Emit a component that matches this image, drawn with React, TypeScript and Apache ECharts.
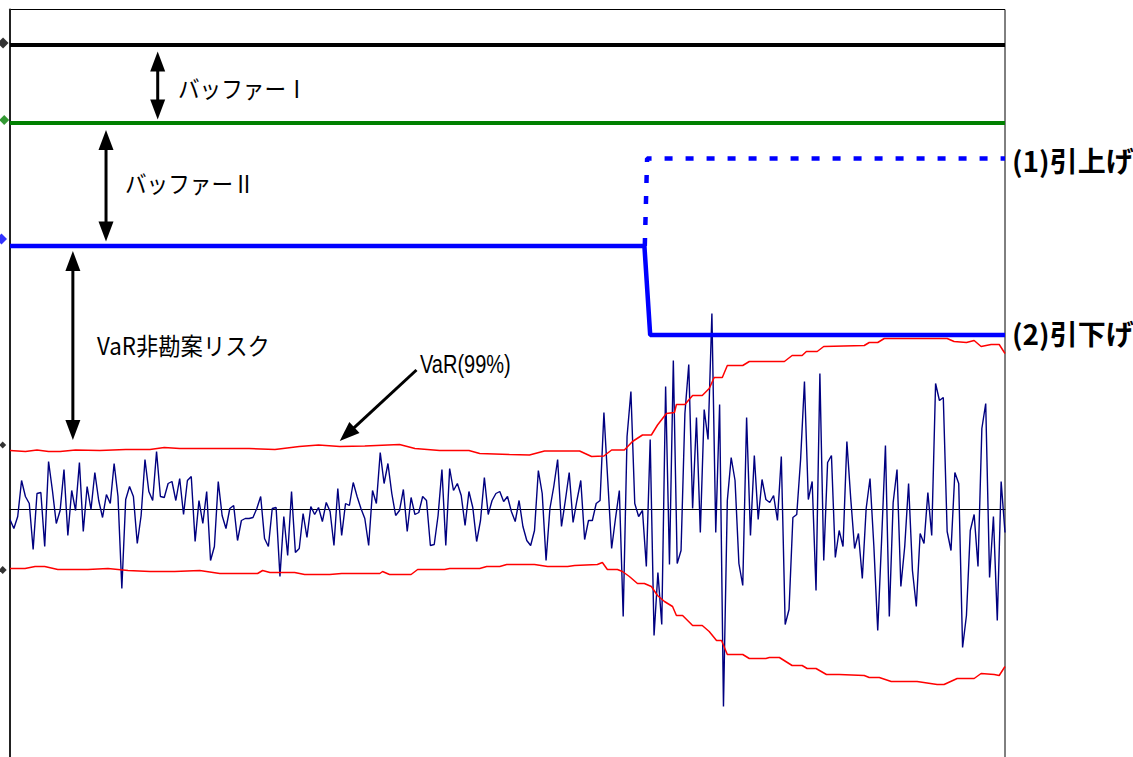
import React, { useEffect, useRef } from 'react';
import * as echarts from 'echarts';

// Daily P&L (blue noisy line), one value per business day
const dailyPnL: number[] = [
  -1.0, -1.9, -0.7, 2.9, 1.3, 0.6, -4.0, 1.6, 1.7, -3.7, 4.8, 1.9, -1.4, -0.1, 4.0, -2.6, 1.9, -0.1, 4.7, -2.2,
  2.3, 0, 3.7, 0.9, -0.8, 1.5, 0.6, 4.6, 1.3, -7.9, 1.0, 2.3, 1.3, -3.4, -0.6, 5.0, 1.8, 0.9, 5.8, 1.3,
  1.2, 2.6, 2.8, 0.9,
  3.1, -0.5, 2.9, 3.3, -3.2, 0.9, -1.4, 1.8, -5.1, -3.7, 2.8, -0.6, -1.9, 0.1, 0.4, -3.1, -1.1, -0.9, -0.9, -0.8,
  0.1, 1.3, -2.9, -3.7, 0.1, 0.2, -6.7, -0.7, -4.6, 1.8, -4.3, -3.9, -0.4, -2.8, 0.3, -0.5, 0.2, -1.2, 0.7, -0.2,
  -3.6, 2.1, -2.6, 0.6,
  0.4, 2.7, 1.3, 0.1, -0.9, -3.6, 1.9, 0.6, 5.7, 2.6, 4.6, 1.6, -0.6, -0.1, 2.0, -2.2, 1.2, -0.5, -0.3, 1.3,
  0.9, -3.6, -3.5, -0.6, 4.0, -3.6, 4.1, 1.9, 2.6, 1.4, -1.6, 1.8, 0.2, -3.2, -1.1, 3.2, -0.5, 0.9, 1.6, 1.8,
  0.8, 1.3,
  -0.2, -1.2, 0.9, -1.7, -3.1, -3.6, -2.1, 3.9, 1.6, -5.1, 0.1, 2.3, 5.0, -1.7, 0.9, 3.7, -1.3, 0.9, 2.9, -3.0,
  -1.1, -1.1, 0.6, 0.9, 9.7, 2.9, -3.9, -0.9, 1.9, -10.7, 7.3, 11.8, 0.6, -0.7, -0.1, -5.7, 7.0, -12.6, -6.3, -11.5,
  12.3, -5.5,
  14.9, -5.4, -4.1, 9.6, 14.5, 0.1, 9.2, -2.3, 10.0, 7.0, 19.6, -2.3, 10.5, -19.7, 0.9, 5.2, 2.9, -5.4, -7.6, 9.2,
  -2.6, 5.4, -1.0, 3.0, 1.0, 0.7, 1.4, -1.1, 5.3, -11.5, -10.0, -0.8, -0.5, 5.0, 12.8, 1.0, 2.8, -8.1, 13.6, -5.1,
  4.7, 5.4, -4.8, -2.1,
  -3.7, 6.8, 1.1, -3.9, -2.4, -6.9, 0.1, 3.1, -3.7, -12.1, -3.1, 6.4, -10.7, 0.7, 4.0, -7.7, -3.7, 2.6, -6.1, -9.7,
  -2.4, -3.4, 1.7, -2.6, 12.6, 10.9, 11.2, -2.2, -4.1, 3.7, 2.6, -13.8, -10.6, -2.1, -0.5, -5.7, 8.1, 10.6, -6.8, -0.7,
  -11.1, 2.8, -2.3,
];

// VaR(99%) upper band: [day, value]
const varUpper: [number, number][] = [
  [0, 5.9], [4, 5.8], [7, 5.95], [10, 5.8], [13, 5.8], [17, 5.95], [23.3, 5.9], [30, 6.0], [36.3, 6.0], [40, 6.2], [44, 6.1],
  [62, 6.1], [68.7, 6.0], [75, 6.3], [80, 6.45], [85.5, 6.3], [92, 6.35],
  [101, 6.5], [105, 6.1], [111.4, 5.9], [119, 5.9], [121.8, 5.6], [129.5, 5.5], [134.7, 5.45], [138.6, 5.85],
  [147.7, 5.85], [150.8, 5.3], [154, 5.35], [156, 5.95], [159.3, 5.95], [161.4, 6.8], [164, 7.45], [166.3, 7.45],
  [167.9, 8.45], [170.2, 9.6], [172.3, 9.7], [172.8, 10.5], [175, 10.5], [177, 11.4], [179.5, 11.4], [181.3, 12.1],
  [182.6, 13.2], [184.7, 13.2], [186, 14.4], [190, 14.4], [191.7, 14.8], [200.8, 14.8], [202.8, 15.4], [205.4, 15.4],
  [206.5, 15.8], [209.3, 15.8], [211, 16.3], [221.5, 16.4], [222.8, 16.7], [225, 16.7], [226.7, 17.1], [243, 17.1],
  [244.8, 16.8], [248, 16.7], [250, 16.9], [251.8, 16.3], [254.4, 16.5], [256.5, 16.5], [258, 15.6],
];

// VaR(99%) lower band: [day, value]
const varLower: [number, number][] = [
  [0, -5.9], [3.9, -5.9], [6.5, -5.7], [9, -5.7], [12.4, -6.0], [20.2, -6.0], [25.4, -5.9], [30.6, -6.1],
  [36.3, -6.2], [42.7, -6.2], [49.2, -6.1], [54.4, -6.4], [64.2, -6.4], [65.5, -6.1], [67.4, -6.3], [73.8, -6.3],
  [76.4, -6.5], [82.9, -6.5], [86, -6.4], [95.9, -6.4], [96.6, -6.2], [98.4, -6.5], [104, -6.5], [105.7, -6.0],
  [112.7, -6.0], [114, -5.9], [121.8, -5.9], [123.6, -5.7], [127, -5.7], [128.8, -5.5], [136, -5.5], [139.4, -5.7],
  [144.6, -5.7], [146.4, -5.6], [152.3, -5.5], [153.6, -5.3], [154.9, -6.0], [157.5, -6.0], [158.8, -6.2],
  [160.6, -6.7], [162.7, -7.4], [164.5, -7.4], [166.3, -7.7], [167.9, -8.6], [169.7, -9.2], [171.8, -9.7],
  [172.8, -10.6], [174.4, -10.6], [177, -11.6], [179.5, -11.6], [181.3, -12.2], [183.2, -13.1], [184.5, -13.1],
  [186, -14.5], [190, -14.5], [191.7, -14.9], [196, -14.9], [196.9, -14.8], [199.5, -14.8], [202.8, -15.6],
  [205.4, -15.6], [206.7, -15.9], [209, -15.9], [211.7, -16.5], [215, -16.5], [221.5, -16.6], [222.8, -16.8],
  [225.4, -16.8], [228.5, -17.2], [235.2, -17.2], [240.4, -17.5], [242.2, -17.5], [245.6, -16.9], [250, -16.9],
  [251.8, -16.4], [255.2, -16.5], [256.5, -16.6], [258, -15.7],
];

// Levels
const capitalLevel: [number, number][] = [[0, 46.45], [258, 46.45]];
const bufferLevel: [number, number][] = [[0, 38.65], [258, 38.65]];
const limitLowered: [number, number][] = [[0, 26.35], [164.5, 26.35], [166, 17.45], [258, 17.45]];
const limitRaised: [number, number][] = [[164.6, 26.35], [165.2, 35.1], [258, 35.1]];

// Axis-edge markers
const edgeMarkers: [number, number][] = [[-1.8, 46.65], [-1.5, 38.95], [-2.2, 27.05], [-1.9, 6.45], [-1.9, -6.05]];
const edgeMarkerColors = ['#000000', '#008000', '#0000ff', '#000000', '#000000'];
const edgeMarkerSizes = [11, 10, 11, 7, 8];

// Annotation arrows: [x1, y1, x2, y2, doubleHeaded]
const arrows: number[][] = [
  [38.3, 45.8, 38.3, 39.0, 1],
  [24.9, 37.95, 24.9, 26.8, 1],
  [16.3, 25.85, 16.3, 6.95, 1],
  [105.4, 13.95, 85.5, 6.85, 0],
];

const labels = ['バッファーⅠ', 'バッファーⅡ', 'VaR非勘案リスク', 'VaR(99%)', '(1)引上げ', '(2)引下げ'];

const JP = '"Noto Sans CJK JP", "Noto Sans", sans-serif';

export default function App() {
  const ref = useRef<HTMLDivElement>(null);
  useEffect(() => {
    if (!ref.current) return;
    const chart = echarts.init(ref.current, undefined, { renderer: 'svg' });
    const option: any = {
      animation: false,
      backgroundColor: '#ffffff',
      grid: { left: 10, right: 128, top: 9.5, bottom: 30.5, show: true, borderColor: '#000', borderWidth: 1 },
      xAxis: {
        type: 'value', min: 0, max: 258,
        axisLine: { show: true, onZero: true, lineStyle: { color: '#000', width: 1 } },
        axisTick: { show: false }, axisLabel: { show: false }, splitLine: { show: false },
      },
      yAxis: {
        type: 'value', min: -26, max: 50,
        axisLine: { show: true, onZero: false, lineStyle: { color: '#222', width: 2 } },
        axisTick: { show: false }, axisLabel: { show: false }, splitLine: { show: false },
      },
      series: [
        { type: 'line', data: dailyPnL.map((v, i) => [i, v]), showSymbol: false, silent: true,
          lineStyle: { color: '#000080', width: 1.4 }, z: 3 },
        { type: 'line', data: varUpper, showSymbol: false, silent: true, lineStyle: { color: '#ff0000', width: 1.5 }, z: 4 },
        { type: 'line', data: varLower, showSymbol: false, silent: true, lineStyle: { color: '#ff0000', width: 1.5 }, z: 4 },
        { type: 'line', data: capitalLevel, showSymbol: false, silent: true, lineStyle: { color: '#000000', width: 4 }, z: 5 },
        { type: 'line', data: bufferLevel, showSymbol: false, silent: true, lineStyle: { color: '#008000', width: 4 }, z: 5 },
        { type: 'line', data: limitRaised, showSymbol: false, silent: true,
          lineStyle: { color: '#0000ff', width: 4.5, type: [8, 13] }, z: 5 },
        { type: 'line', data: limitLowered, showSymbol: false, silent: true, lineStyle: { color: '#0000ff', width: 4.5 }, z: 6 },
        { type: 'scatter', data: edgeMarkers.map((p, i) => ({ value: p, symbolSize: edgeMarkerSizes[i], itemStyle: { color: edgeMarkerColors[i] } })),
          symbol: 'diamond', clip: false, silent: true, z: 6 },
        {
          type: 'custom', data: arrows, silent: true, z: 7,
          encode: { x: [0, 2], y: [1, 3] },
          renderItem: (params: any, api: any) => {
            const a = api.coord([api.value(0), api.value(1)]);
            const b = api.coord([api.value(2), api.value(3)]);
            const both = api.value(4) === 1;
            const dx = b[0] - a[0], dy = b[1] - a[1];
            const len = Math.hypot(dx, dy);
            const ux = dx / len, uy = dy / len;
            const hl = 20, hw = 7.5;
            const head = (t: number[], ex: number, ey: number) => ({
              type: 'polygon',
              shape: { points: [
                [t[0], t[1]],
                [t[0] - ex * hl - ey * hw, t[1] - ey * hl + ex * hw],
                [t[0] - ex * hl + ey * hw, t[1] - ey * hl - ex * hw],
              ] },
              style: { fill: '#000' },
            });
            const s = both ? [a[0] + ux * hl * 0.8, a[1] + uy * hl * 0.8] : a;
            const e = [b[0] - ux * hl * 0.8, b[1] - uy * hl * 0.8];
            const children: any[] = [
              { type: 'line', shape: { x1: s[0], y1: s[1], x2: e[0], y2: e[1] }, style: { stroke: '#000', lineWidth: 3 } },
              head(b, ux, uy),
            ];
            if (both) children.push(head(a, -ux, -uy));
            return { type: 'group', children };
          },
        },
      ],
      graphic: [
        { type: 'text', x: 178, y: 88, scaleX: 0.9, style: { text: labels[0], font: `24px ${JP}`, fill: '#000', verticalAlign: 'middle' } },
        { type: 'text', x: 125, y: 183, scaleX: 0.9, style: { text: labels[1], font: `24px ${JP}`, fill: '#000', verticalAlign: 'middle' } },
        { type: 'text', x: 97, y: 345, scaleX: 0.93, style: { text: labels[2], font: `24px ${JP}`, fill: '#000', verticalAlign: 'middle' } },
        { type: 'text', x: 420, y: 365, scaleX: 0.8, style: { text: labels[3], font: '25px "Liberation Sans", Arial, sans-serif', fill: '#000', verticalAlign: 'middle' } },
        { type: 'text', x: 1012, y: 160, style: { text: labels[4], font: `bold 28px ${JP}`, fill: '#000', verticalAlign: 'middle' } },
        { type: 'text', x: 1012, y: 333, style: { text: labels[5], font: `bold 28px ${JP}`, fill: '#000', verticalAlign: 'middle' } },
      ],
    };
    chart.setOption(option);
    return () => chart.dispose();
  }, []);
  return <div ref={ref} style={{ position: 'fixed', left: 0, top: 0, width: 1133, height: 800, background: '#fff' }} />;
}
